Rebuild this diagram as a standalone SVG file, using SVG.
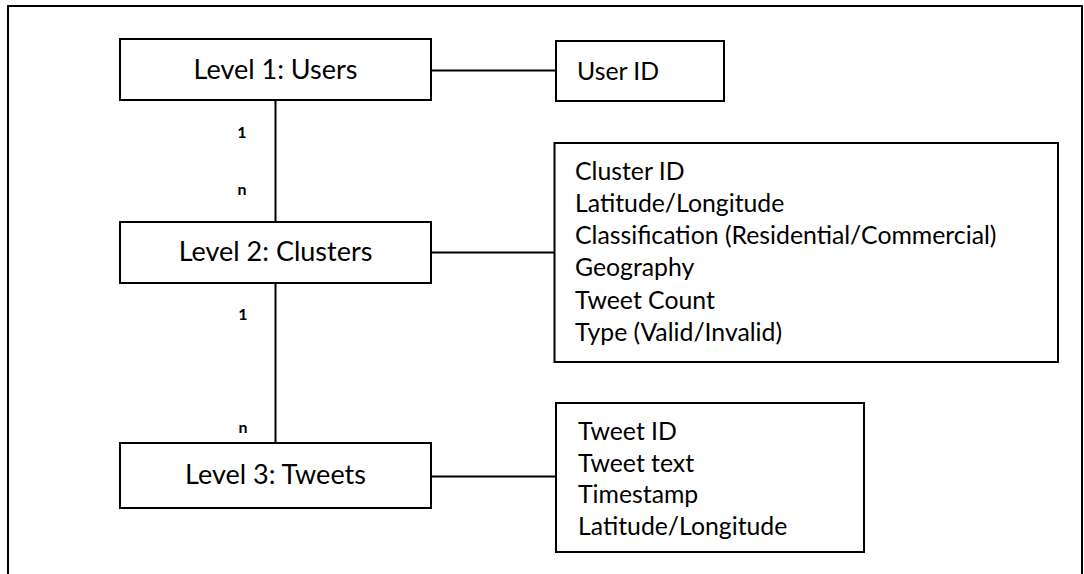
<svg xmlns="http://www.w3.org/2000/svg" width="1084" height="574" viewBox="0 0 1084 574">
<style>
.box{fill:#fff;stroke:#000;stroke-width:2}
.ln{fill:none;stroke:#000;stroke-width:2}
.t{font-family:Lato,"Open Sans","Liberation Sans",sans-serif;font-size:24.8px;fill:#000}
.lv{font-family:Lato,"Open Sans","Liberation Sans",sans-serif;font-size:27px;fill:#000;text-anchor:middle}
.card{font-family:Lato,"Open Sans","Liberation Sans",sans-serif;font-size:16px;font-weight:bold;fill:#000;text-anchor:middle}
</style>
<rect width="1084" height="574" fill="#fff"/>
<path class="ln" d="M8,574 V6 H1082 V574"/>
<g id="connectors">
<line class="ln" x1="431" y1="70.5" x2="556" y2="70.5"/>
<line class="ln" x1="275.5" y1="100" x2="275.5" y2="222"/>
<line class="ln" x1="431" y1="252.5" x2="555" y2="252.5"/>
<line class="ln" x1="275.5" y1="283" x2="275.5" y2="443"/>
<line class="ln" x1="431" y1="476.5" x2="556" y2="476.5"/>
<text class="card" x="242" y="138">1</text>
<text class="card" x="242" y="195">n</text>
<text class="card" x="243" y="320">1</text>
<text class="card" x="243" y="433">n</text>
</g>
<g id="level1">
<rect class="box" x="120" y="39" width="311" height="61"/>
<text class="lv" x="275.5" y="79">Level 1: Users</text>
</g>
<g id="userid">
<rect class="box" x="556" y="41" width="168" height="60"/>
<text class="t" x="577" y="80">User ID</text>
</g>
<g id="level2">
<rect class="box" x="120" y="222" width="311" height="61"/>
<text class="lv" x="275.5" y="261">Level 2: Clusters</text>
</g>
<g id="clusterattrs">
<rect class="box" x="554.5" y="143" width="503.5" height="219"/>
<text class="t" x="575" y="180">Cluster ID</text>
<text class="t" x="575" y="212">Latitude/Longitude</text>
<text class="t" x="575" y="244">Classification (Residential/Commercial)</text>
<text class="t" x="575" y="276">Geography</text>
<text class="t" x="575" y="309">Tweet Count</text>
<text class="t" x="575" y="341">Type (Valid/Invalid)</text>
</g>
<g id="level3">
<rect class="box" x="120" y="443" width="311" height="65"/>
<text class="lv" x="275.5" y="484">Level 3: Tweets</text>
</g>
<g id="tweetattrs">
<rect class="box" x="556" y="403" width="308" height="149"/>
<text class="t" x="578" y="440">Tweet ID</text>
<text class="t" x="578" y="472">Tweet text</text>
<text class="t" x="578" y="503">Timestamp</text>
<text class="t" x="578" y="535">Latitude/Longitude</text>
</g>
</svg>
